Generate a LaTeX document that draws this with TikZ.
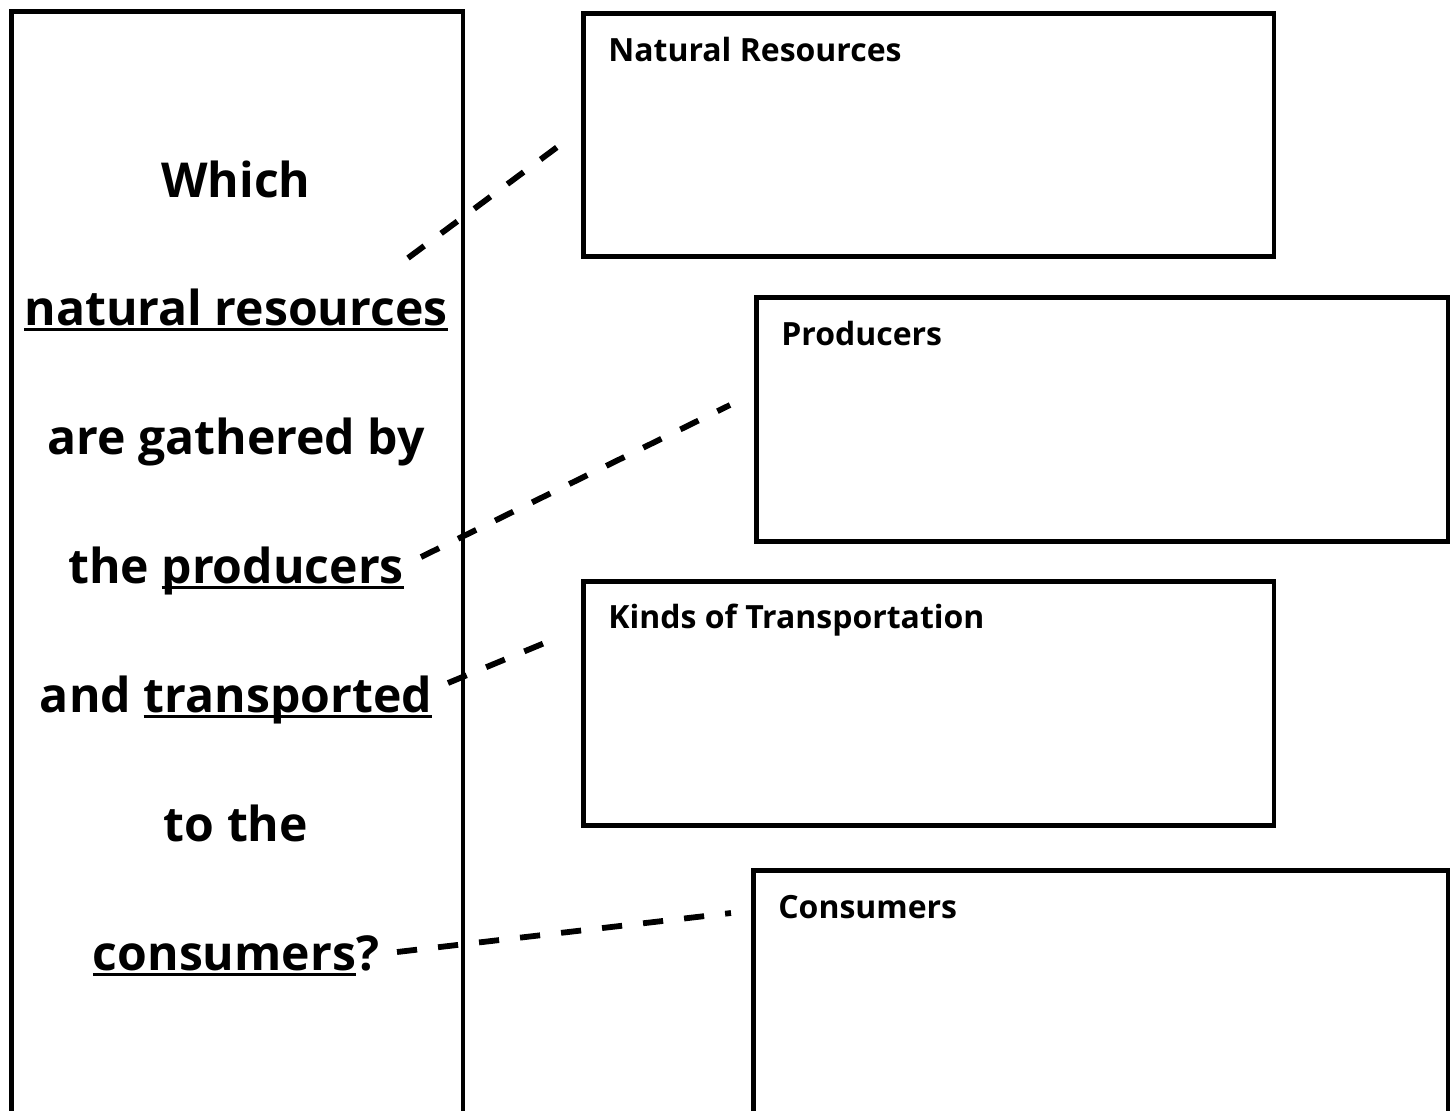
\documentclass[tikz,border=0pt]{standalone}
\usepackage{fontspec}
\setmainfont{Open Sans}
\usetikzlibrary{positioning}

% underline at a fixed depth under the baseline
\newcommand\uword[1]{\setbox0\hbox{#1}\rlap{\rule[-0.13em]{\wd0}{0.06em}}\box0}

\begin{document}
\begin{tikzpicture}[x=0.02cm,y=-0.02cm,
    frame/.style={draw,line width=2.6pt,inner sep=0pt,anchor=north west},
    title/.style={anchor=base west,inner sep=0pt,font=\bfseries\fontsize{18.2}{22}\selectfont},
    question/.style={anchor=base,inner sep=0pt,font=\bfseries\fontsize{27.4}{32}\selectfont},
    link/.style={line width=3.3pt,dash pattern=on 11.5pt off 12pt}]
    \useasboundingbox (0,0) rectangle (1450,1110);
    \clip (0,0) rectangle (1450,1110);
    % les cadres
    \node[frame,minimum width=9.04cm,minimum height=22.8cm] (quest) at (9,9) {};
    \node[frame,minimum width=13.82cm,minimum height=4.86cm] (nat) at (581,11) {};
    \node[frame,minimum width=13.84cm,minimum height=4.88cm] (prod) at (754,295) {};
    \node[frame,minimum width=13.82cm,minimum height=4.88cm] (trans) at (581,579) {};
    \node[frame,minimum width=13.90cm,minimum height=6cm] (cons) at (751,868) {};
    % les titres
    \node[title] (natT) at (608,61) {Natural Resources};
    \node[title] (prodT) at (781,345) {Producers};
    \node[title] (transT) at (608,628) {Kinds of Transportation};
    \node[title] (consT) at (778,918) {Consumers};
    % la question
    \node[question] (q1) at (236,197) {Which};
    \node[question] (q2) at (236,325) {\uword{natural resources}};
    \node[question] (q3) at (236,454) {are gathered by};
    \node[question] (q4) at (236,583) {the \uword{producers}};
    \node[question] (q5) at (236,712) {and \uword{transported}};
    \node[question] (q6) at (236,841) {to the};
    \node[question] (q7) at (236,970) {\uword{consumers}?};
    % les liens
    \coordinate (a1) at (408,258);
    \coordinate (b1) at (560,145);
    \coordinate (a2) at (421,557);
    \coordinate (b2) at (730,405);
    \coordinate (a3) at (448,683);
    \coordinate (b3) at (559,637);
    \coordinate (a4) at (397,952);
    \coordinate (b4) at (731,913);
    \draw[link] (a1) -- (b1);
    \draw[link] (a2) -- (b2);
    \draw[link] (a3) -- (b3);
    \draw[link] (a4) -- (b4);
\end{tikzpicture}
\end{document}
